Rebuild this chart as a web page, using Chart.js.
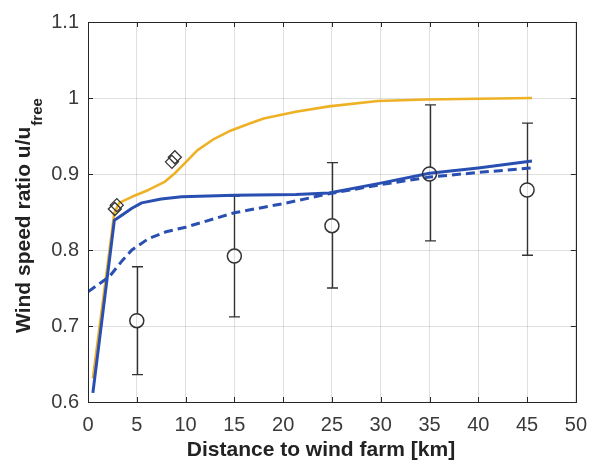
<!DOCTYPE html>
<html>
<head>
<meta charset="utf-8">
<script src="https://cdn.jsdelivr.net/npm/chart.js@4"></script>
<style>
html,body{margin:0;padding:0;background:#fff;}
</style>
</head>
<body>
<canvas id="chart" width="598" height="465"></canvas>
<script>

// ---------- data ----------

// model curve, yellow
let yellowKm  = [0.5, 2.7, 3.2, 4.5, 6.2, 7.9, 8.9, 9.9, 11.2, 12.9, 14.6, 16.5, 18, 21.3, 24.7, 29.7, 34.7, 40, 45.5];
let yellowVal = [0.631, 0.849, 0.862, 0.870, 0.879, 0.890, 0.901, 0.914, 0.931, 0.946, 0.957, 0.966, 0.973, 0.982, 0.989, 0.996, 0.998, 0.999, 1.0];

// model curve, blue solid
let blueKm  = [0.5, 2.7, 3.5, 4.5, 5.5, 7.5, 9.6, 15, 21.3, 24.7, 30, 35, 40, 45.5];
let blueVal = [0.612, 0.839, 0.846, 0.855, 0.862, 0.867, 0.870, 0.872, 0.873, 0.875, 0.888, 0.901, 0.908, 0.917];

// model curve, blue dashed
let dashKm  = [0, 2.2, 3.5, 4.5, 6.2, 8, 10, 15, 20, 24.7, 30, 35, 40, 45.6];
let dashVal = [0.745, 0.765, 0.786, 0.800, 0.815, 0.824, 0.830, 0.849, 0.861, 0.874, 0.886, 0.896, 0.902, 0.908];

// observations with error bars
let obsKm   = [5, 15, 25, 35, 45];
let obsVal  = [0.707, 0.792, 0.832, 0.900, 0.879];
let obsLow  = [0.636, 0.712, 0.750, 0.812, 0.793];
let obsHigh = [0.778, 0.871, 0.915, 0.991, 0.967];

// diamonds
let diaKm  = [2.75, 2.95, 8.6, 8.9];
let diaVal = [0.854, 0.859, 0.916, 0.922];

// axes
let xTicks = [0, 5, 10, 15, 20, 25, 30, 35, 40, 45, 50];
let yTicks = [0.6, 0.7, 0.8, 0.9, 1.0, 1.1];
let yTickLabels = ["0.6", "0.7", "0.8", "0.9", "1", "1.1"];

let xTitle = "Distance to wind farm [km]";
let yTitle = "Wind speed ratio u/u";
let yTitleSub = "free";

// =====================

function pts(xs, ys){
return xs.map((x,i)=>({x:x, y:ys[i]}));
}

const BLUE = "#2a4fb2";
const YELLOW = "#eeb125";
const AXIS = "#262626";
const CIRCLE_R = 7;

// =====================
// matlab style box, ticks, error bars, titles
// =====================

const matlabStuff = {
id:"matlabStuff",

beforeDatasetsDraw(chart){
let ctx = chart.ctx;
let x = chart.scales.x, y = chart.scales.y;
ctx.save();
ctx.strokeStyle = "#333";
ctx.lineWidth = 1.4;
obsKm.forEach((k,i)=>{
let px = Math.round(x.getPixelForValue(k)) + 0.5;
let pc = y.getPixelForValue(obsVal[i]);
let pt = y.getPixelForValue(obsHigh[i]);
let pb = y.getPixelForValue(obsLow[i]);
ctx.beginPath();
ctx.moveTo(px, pt); ctx.lineTo(px, pc - CIRCLE_R);
ctx.moveTo(px, pc + CIRCLE_R); ctx.lineTo(px, pb);
ctx.moveTo(px - 5.5, pt); ctx.lineTo(px + 5.5, pt);
ctx.moveTo(px - 5.5, pb); ctx.lineTo(px + 5.5, pb);
ctx.stroke();
});
ctx.restore();
},

afterDraw(chart){
let ctx = chart.ctx;
let a = chart.chartArea;
let x = chart.scales.x, y = chart.scales.y;
ctx.save();

// box
ctx.strokeStyle = AXIS;
ctx.lineWidth = 1;
ctx.strokeRect(Math.round(a.left)+0.5, Math.round(a.top)+0.5, Math.round(a.right-a.left), Math.round(a.bottom-a.top));

// inward ticks
ctx.beginPath();
xTicks.forEach(t=>{
let p = Math.round(x.getPixelForValue(t)) + 0.5;
ctx.moveTo(p, a.bottom); ctx.lineTo(p, a.bottom - 5);
ctx.moveTo(p, a.top); ctx.lineTo(p, a.top + 5);
});
yTicks.forEach(t=>{
let p = Math.round(y.getPixelForValue(t)) + 0.5;
ctx.moveTo(a.left, p); ctx.lineTo(a.left + 5, p);
ctx.moveTo(a.right, p); ctx.lineTo(a.right - 5, p);
});
ctx.stroke();

// x title
ctx.fillStyle = "#222";
ctx.font = "bold 21px 'Liberation Sans', Arial, sans-serif";
ctx.textAlign = "center";
ctx.textBaseline = "alphabetic";
ctx.fillText(xTitle, 321, 456);

// y title with subscript
ctx.translate(29.5, 333);
ctx.rotate(-Math.PI/2);
ctx.textAlign = "left";
ctx.font = "bold 21px 'Liberation Sans', Arial, sans-serif";
ctx.fillText(yTitle, 0, 0);
let w = ctx.measureText(yTitle).width;
ctx.font = "bold 15px 'Liberation Sans', Arial, sans-serif";
ctx.fillText(yTitleSub, w + 1, 12);

ctx.restore();
}
};

// =====================
// CHART
// =====================

new Chart(document.getElementById("chart"),{
type:"scatter",
data:{
datasets:[
{
label:"diamonds",
data:pts(diaKm, diaVal),
pointStyle:"rectRot",
pointRadius:6.5,
borderColor:"#333",
borderWidth:1.3,
backgroundColor:"rgba(0,0,0,0)",
showLine:false
},
{
label:"observed",
data:pts(obsKm, obsVal),
pointStyle:"circle",
pointRadius:CIRCLE_R,
borderColor:"#333",
borderWidth:1.5,
backgroundColor:"rgba(0,0,0,0)",
showLine:false
},
{
label:"blue",
data:pts(blueKm, blueVal),
showLine:true,
borderColor:BLUE,
borderWidth:3,
pointRadius:0,
borderJoinStyle:"round",
tension:0
},
{
label:"blue dashed",
data:pts(dashKm, dashVal),
showLine:true,
borderColor:BLUE,
borderWidth:3,
borderDash:[9,5],
pointRadius:0,
tension:0
},
{
label:"yellow",
data:pts(yellowKm, yellowVal),
showLine:true,
borderColor:YELLOW,
borderWidth:2.6,
pointRadius:0,
borderJoinStyle:"round",
tension:0
}
]
},
options:{
responsive:false,
animation:false,
layout:{padding:{top:22, right:13, left:0, bottom:0}},
plugins:{legend:{display:false}, tooltip:{enabled:false}},
scales:{
x:{
type:"linear",
min:0, max:50,
afterFit(s){ s.height = 63; },
afterBuildTicks(s){ s.ticks = xTicks.map(v=>({value:v})); },
ticks:{
padding:11,
color:"#3a3a3a",
font:{family:"'Liberation Sans', Arial, sans-serif", size:20},
maxRotation:0,
callback:(v)=>String(v)
},
grid:{color:"rgba(38,38,38,0.15)", drawTicks:false},
border:{display:false}
},
y:{
type:"linear",
min:0.6, max:1.1,
afterFit(s){ s.width = 88; },
afterBuildTicks(s){ s.ticks = yTicks.map(v=>({value:v})); },
ticks:{
padding:9,
color:"#3a3a3a",
font:{family:"'Liberation Sans', Arial, sans-serif", size:20},
callback:(v)=>{
let i = yTicks.findIndex(t=>Math.abs(t-v)<1e-6);
return i >= 0 ? yTickLabels[i] : "";
}
},
grid:{color:"rgba(38,38,38,0.15)", drawTicks:false},
border:{display:false}
}
}
},
plugins:[matlabStuff]
});

</script>
</body>
</html>
